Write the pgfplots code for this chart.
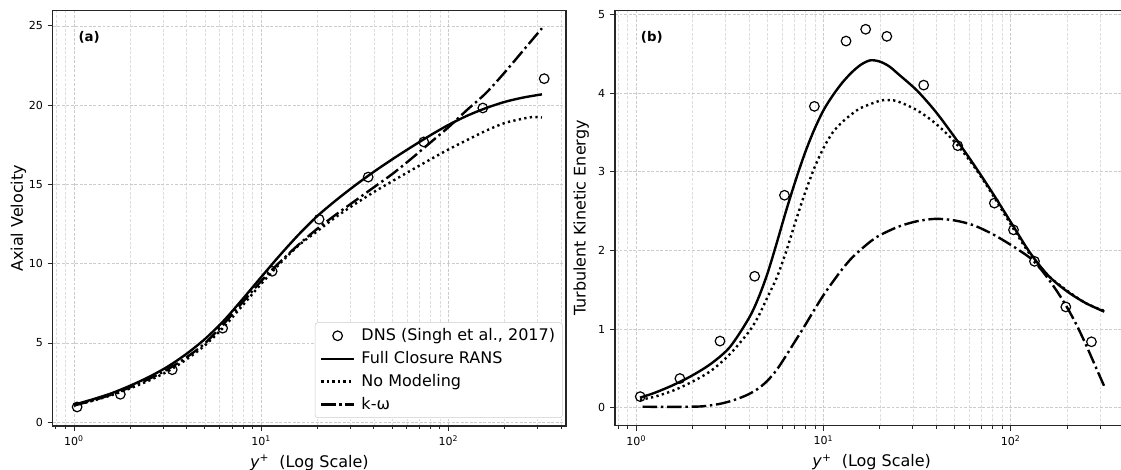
\documentclass[border=0pt]{standalone}
\usepackage{pgfplots}
\pgfplotsset{compat=1.18}
\usepackage{fontspec}
\setmainfont{DejaVu Sans}

\pgfkeys{/pgf/number format/assume math mode=true}
\pgfplotsset{
 legend image code/.code={\draw[mark repeat=2,mark phase=2,#1] plot coordinates {(0pt,0pt) (12.5pt,0pt) (25pt,0pt)};},
 every axis/.append style={
  scale only axis, width=385pt, height=311.5pt,
  xmin=0.77, xmax=425,
  xtick={1,10,100},
  xticklabels={10\textsuperscript{0},10\textsuperscript{1},10\textsuperscript{2}},
  minor xtick={0.8,0.9,2,3,4,5,6,7,8,9,20,30,40,50,60,70,80,90,200,300,400},
  grid=both,
  major grid style={dash pattern=on 2.2pt off 1.2pt, draw=black!20, line width=0.45pt},
  minor grid style={dash pattern=on 2.2pt off 1.2pt, draw=black!13, line width=0.35pt},
  tick align=outside, tick pos=left,
  major tick length=3.8pt, minor tick length=2.2pt,
  every tick/.style={black!85, line width=0.6pt},
  axis line style={black!85, line width=0.8pt},
  tick label style={font=\fontsize{8.3}{10}\selectfont},
  label style={font=\fontsize{12}{14}\selectfont},
  xlabel={\textit{y}\textsuperscript{+}\ \ (Log Scale)},
 },
}
\tikzset{
 dns/.style={only marks, mark=o, mark size=3.6pt, mark options={line width=0.9pt, draw=black, fill=none, solid}},
 full/.style={black, line width=1.8pt, smooth, tension=0.5},
 nomod/.style={black, line width=1.8pt, smooth, tension=0.5, dash pattern=on 1.7pt off 2.5pt},
 kw/.style={black, line width=1.8pt, smooth, tension=0.5, dash pattern=on 11pt off 2.8pt on 1.8pt off 2.8pt},
}

\begin{document}
\begin{tikzpicture}
\begin{semilogxaxis}[at={(39.5pt,33pt)}, anchor=south west,
  ymin=-0.24, ymax=25.96, ytick={0,5,10,15,20,25},
  ylabel={Axial Velocity}, ylabel style={yshift=-5pt},
  legend cell align=left,
  legend style={at={(1,0)}, anchor=south east, xshift=-2.5pt, yshift=6pt,
    draw=black!20, rounded corners=2pt, fill=white,
    font=\fontsize{12}{14}\selectfont, inner xsep=3.5pt, inner ysep=2.5pt, row sep=2.6pt,
    /tikz/every odd column/.append style={column sep=2.5pt}},
]
\addplot[dns] coordinates {(1.04,0.96)(1.77,1.76)(3.35,3.31)(6.23,5.93)(11.45,9.52)(20.4,12.8)(37.3,15.46)(73.9,17.68)(152.8,19.82)(325,21.67)};
\addlegendentry{DNS (Singh et al., 2017)}
\addplot[full] coordinates {(1.0,1.1)(1.259,1.44)(1.585,1.82)(1.995,2.30)(2.512,2.85)(3.162,3.50)(3.981,4.30)(5.012,5.25)(6.31,6.40)(7.943,7.75)(10,9.15)(12.59,10.53)(15.85,11.83)(19.95,13.0)(25.12,14.0)(31.62,14.92)(39.81,15.78)(50.12,16.58)(63.1,17.34)(79.43,18.07)(100,18.75)(125.9,19.33)(158.5,19.81)(199.5,20.2)(251.2,20.48)(316.2,20.68)};
\addlegendentry{Full Closure RANS}
\addplot[nomod] coordinates {(1.0,1.05)(1.259,1.35)(1.585,1.70)(1.995,2.13)(2.512,2.62)(3.162,3.20)(3.981,3.95)(5.012,4.85)(6.31,6.0)(7.943,7.35)(10,8.72)(12.59,10.0)(15.85,11.15)(19.95,12.05)(25.12,12.95)(31.62,13.75)(39.81,14.5)(50.12,15.2)(63.1,15.88)(79.43,16.55)(100,17.2)(125.9,17.8)(158.5,18.38)(199.5,18.87)(251.2,19.15)(281.8,19.25)(316.2,19.22)};
\addlegendentry{No Modeling}
\addplot[kw] coordinates {(1.0,1.05)(1.259,1.37)(1.585,1.74)(1.995,2.2)(2.512,2.72)(3.162,3.33)(3.981,4.08)(5.012,4.98)(6.31,6.2)(7.943,7.55)(10,8.9)(12.59,10.1)(15.85,11.2)(19.95,12.2)(25.12,13.1)(31.62,13.95)(39.81,14.8)(50.12,15.65)(63.1,16.6)(79.43,17.6)(100,18.6)(125.9,19.7)(158.5,20.75)(199.5,22.05)(251.2,23.45)(316.2,24.85)};
\addlegendentry{k-ω}
\node[anchor=north west, inner sep=0pt, font=\fontsize{10}{12}\selectfont\bfseries] at (rel axis cs:0.05,0.95) {(a)};
\end{semilogxaxis}

\begin{semilogxaxis}[at={(461.25pt,33.2pt)}, anchor=south west,
  ymin=-0.23, ymax=5.05, ytick={0,1,2,3,4,5},
  ylabel={Turbulent Kinetic Energy},
]
\addplot[dns] coordinates {(1.05,0.14)(1.71,0.37)(2.80,0.846)(4.29,1.67)(6.19,2.70)(8.94,3.83)(13.2,4.66)(16.8,4.81)(21.8,4.72)(34.3,4.10)(52.1,3.33)(81.8,2.60)(103.5,2.26)(134,1.86)(197,1.28)(270,0.837)};
\addplot[full] coordinates {(1.047,0.127)(1.259,0.19)(1.585,0.29)(1.995,0.41)(2.512,0.56)(3.162,0.77)(3.981,1.13)(4.467,1.38)(5.012,1.70)(5.623,2.09)(6.31,2.5)(7.079,2.88)(7.943,3.23)(8.913,3.53)(10,3.78)(11.22,3.97)(12.59,4.13)(14.13,4.26)(15.85,4.36)(17.78,4.415)(19.95,4.40)(22.39,4.34)(25.12,4.24)(31.62,4.03)(39.81,3.76)(50.12,3.44)(63.1,3.10)(79.43,2.74)(100,2.36)(125.9,1.98)(158.5,1.68)(199.5,1.48)(251.2,1.33)(316.2,1.22)};
\addplot[nomod] coordinates {(1.047,0.10)(1.259,0.14)(1.585,0.22)(1.995,0.33)(2.512,0.47)(3.162,0.68)(3.981,0.96)(4.467,1.15)(5.012,1.40)(5.623,1.65)(6.31,1.98)(7.079,2.36)(7.943,2.72)(8.913,3.04)(10,3.30)(11.22,3.50)(12.59,3.63)(14.13,3.73)(15.85,3.81)(19.95,3.90)(22.39,3.91)(25.12,3.89)(31.62,3.78)(39.81,3.61)(50.12,3.38)(63.1,3.08)(79.43,2.72)(100,2.33)(125.9,1.96)(158.5,1.68)(199.5,1.49)(251.2,1.33)(316.2,1.23)};
\addplot[kw] coordinates {(1.08,0.012)(1.259,0.010)(1.585,0.009)(1.995,0.012)(2.239,0.016)(2.512,0.03)(2.818,0.05)(3.162,0.08)(3.548,0.12)(3.981,0.17)(4.467,0.24)(5.012,0.34)(5.623,0.48)(6.31,0.66)(7.079,0.85)(7.943,1.04)(8.913,1.24)(10,1.43)(11.22,1.60)(12.59,1.76)(14.13,1.90)(15.85,2.01)(17.78,2.11)(19.95,2.19)(25.12,2.30)(31.62,2.37)(39.81,2.40)(50.12,2.38)(63.1,2.32)(79.43,2.21)(100,2.07)(125.9,1.91)(141.3,1.79)(158.5,1.64)(177.8,1.47)(199.5,1.28)(223.9,1.06)(251.2,0.81)(281.8,0.54)(316.2,0.27)};
\node[anchor=north west, inner sep=0pt, font=\fontsize{10}{12}\selectfont\bfseries] at (rel axis cs:0.05,0.95) {(b)};
\end{semilogxaxis}
\pgfresetboundingbox
\useasboundingbox (0,0) rectangle (840.75pt,352.5pt);
\end{tikzpicture}
\end{document}
